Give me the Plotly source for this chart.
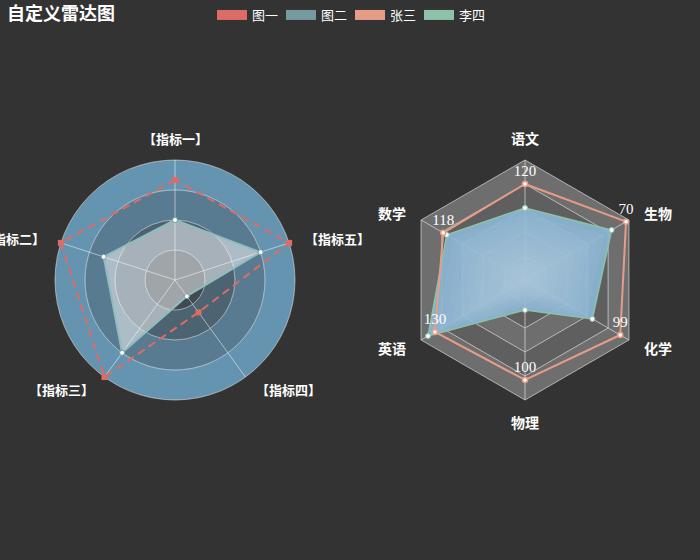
import math
import numpy as np
import plotly.graph_objects as go

# ---------------- data ----------------
left_indicators = ['指标一', '指标二', '指标三', '指标四', '指标五']
left_min = [0, 0, 0, -120, 0]
left_max = [120, 8, 0.4, 0, 2000]
series1_name = '图一'
series1_values = [100, 8, 0.4, -80, 2000]
series2_name = '图二'
series2_values = [60, 5, 0.3, -100, 1500]

right_indicators = ['语文', '数学', '英语', '物理', '化学', '生物']
right_max = [150, 150, 150, 120, 108, 72]
series3_name = '张三'
series3_values = [120, 118, 130, 100, 99, 70]
series4_name = '李四'
series4_values = [90, 113, 140, 30, 70, 60]

# ---------------- style ----------------
W, H = 700, 560
BG = '#333333'
C1, C2, C3, C4 = '#dd6b66', '#759aa0', '#e69d87', '#8dc1a9'
CJK = 'Noto Sans CJK SC'
LEFT_SPLIT = 4
RIGHT_SPLIT = 5
left_ring_colors = ['rgba(114,172,209,0.2)', 'rgba(114,172,209,0.4)',
                    'rgba(114,172,209,0.6)', 'rgba(114,172,209,0.8)']
right_ring_colors = ['rgba(250,250,250,0.3)', 'rgba(200,200,200,0.3)']
LEFT_GRID = 'rgba(255,255,255,0.5)'
RIGHT_GRID = 'rgba(215,215,215,0.75)'
RADIUS = 120
NAME_GAP = 15
NAME_GAP_VERT = 22
LEFT_CENTER = (0.25 * W, 0.5 * H)
RIGHT_CENTER = (0.75 * W, 0.5 * H)


def norm(vals, mins, maxs):
    return [(v - lo) / (hi - lo) for v, lo, hi in zip(vals, mins, maxs)]


def closed(lst):
    return list(lst) + [lst[0]]


fig = go.Figure()


def add_rings(theta_loop, n, colors, subplot):
    """Filled annuli (outer loop + reversed inner loop) for the split areas."""
    m = len(theta_loop)
    for i in range(n):
        inner, outer = i / n, (i + 1) / n
        fig.add_trace(go.Scatterpolar(
            theta=list(theta_loop) + list(theta_loop)[::-1],
            r=[outer] * m + [inner] * m,
            mode='lines', line=dict(width=0), fill='toself',
            fillcolor=colors[i % len(colors)],
            subplot=subplot, showlegend=False, hoverinfo='skip'))


circle_theta = np.linspace(0, 360, 181)
add_rings(circle_theta, LEFT_SPLIT, left_ring_colors, 'polar')
add_rings(closed(right_indicators), RIGHT_SPLIT, right_ring_colors, 'polar3')

# left series
r1 = norm(series1_values, left_min, left_max)
r2 = norm(series2_values, left_min, left_max)
fig.add_trace(go.Scatterpolar(
    r=closed(r2), theta=closed(left_indicators), subplot='polar2',
    mode='lines+markers', fill='toself', fillcolor='rgba(255,255,255,0.5)',
    line=dict(color='#8fbdbd', width=2),
    marker=dict(symbol='circle', size=5, color='white', line=dict(color=C2, width=1)),
    name=series2_name, showlegend=False, hoverinfo='skip'))
fig.add_trace(go.Scatterpolar(
    r=closed(r1), theta=closed(left_indicators), subplot='polar2',
    mode='lines+markers', line=dict(color=C1, width=2, dash='8px,5px'),
    marker=dict(symbol='square', size=6, color=C1),
    name=series1_name, showlegend=False, hoverinfo='skip'))

# right series
zeros = [0] * len(right_indicators)
r3 = norm(series3_values, zeros, right_max)
r4 = norm(series4_values, zeros, right_max)
fig.add_trace(go.Scatterpolar(
    r=closed(r4), theta=closed(right_indicators), subplot='polar4',
    mode='lines', fill='toself', fillcolor='rgba(140,182,212,0.92)',
    line=dict(color=C4, width=1.5),
    name=series4_name, showlegend=False, hoverinfo='skip'))
# soft radial-gradient look for the 李四 area (lighter toward the centre)
NLAY = 12
for j in range(1, NLAY):
    k = 1 - j / NLAY
    fig.add_trace(go.Scatterpolar(
        r=closed([v * k for v in r4]), theta=closed(right_indicators), subplot='polar4',
        mode='lines', line=dict(width=0), fill='toself',
        fillcolor='rgba(196,216,230,0.06)', showlegend=False, hoverinfo='skip'))
fig.add_trace(go.Scatterpolar(
    r=closed(r4), theta=closed(right_indicators), subplot='polar4',
    mode='markers',
    marker=dict(symbol='circle', size=5, color='white', line=dict(color=C4, width=1)),
    showlegend=False, hoverinfo='skip'))
fig.add_trace(go.Scatterpolar(
    r=closed(r3), theta=closed(right_indicators), subplot='polar4',
    mode='lines+markers+text', line=dict(color=C3, width=2),
    marker=dict(symbol='circle', size=5, color='white', line=dict(color=C3, width=1.5)),
    text=[str(v) for v in series3_values] + [''], textposition='top center',
    textfont=dict(family='Liberation Serif', size=15, color='white'),
    name=series3_name, showlegend=False, hoverinfo='skip'))

# legend-only entries
for name, c, sp in [(series1_name, C1, 'polar2'), (series2_name, C2, 'polar2'),
                    (series3_name, C3, 'polar4'), (series4_name, C4, 'polar4')]:
    fig.add_trace(go.Scatterpolar(
        r=[None], theta=[None], subplot=sp, mode='lines', name=name,
        line=dict(color=c, width=14), showlegend=True, hoverinfo='skip'))


def dom(center):
    cx, cy = center
    return dict(x=[(cx - RADIUS) / W, (cx + RADIUS) / W],
                y=[1 - (cy + RADIUS) / H, 1 - (cy - RADIUS) / H])


def hidden_polar(center, cats, gridshape):
    ang = dict(rotation=90, direction='counterclockwise', visible=False)
    if cats is not None:
        ang.update(type='category', categoryarray=cats)
    else:
        ang.update(type='linear', thetaunit='degrees')
    return dict(
        domain=dom(center), bgcolor='rgba(0,0,0,0)', gridshape=gridshape,
        angularaxis=ang, radialaxis=dict(range=[0, 1], visible=False))


def data_polar(center, cats, gridshape, gridcolor, nsplit):
    return dict(
        domain=dom(center), bgcolor='rgba(0,0,0,0)', gridshape=gridshape,
        angularaxis=dict(type='category', categoryarray=cats, rotation=90,
                         direction='counterclockwise', showline=True, linecolor=gridcolor,
                         linewidth=1, showgrid=True, gridcolor=gridcolor, gridwidth=1,
                         ticks='', showticklabels=False, layer='below traces'),
        radialaxis=dict(range=[0, 1], showticklabels=False, ticks='', showline=False,
                        showgrid=True, gridcolor=gridcolor, gridwidth=1,
                        tickvals=[i / nsplit for i in range(1, nsplit)],
                        layer='below traces'))


def name_annotations(center, labels, fsize):
    cx, cy = center
    n = len(labels)
    out = []
    for i, lab in enumerate(labels):
        a = math.radians(90 + 360.0 * i / n)
        c, s = math.cos(a), math.sin(a)
        gap = NAME_GAP_VERT if abs(s) > 0.95 else NAME_GAP
        px = cx + (RADIUS + gap) * c
        py = cy - (RADIUS + gap) * s
        xa = 'center' if abs(c) < 0.05 else ('left' if c > 0 else 'right')
        out.append(dict(text=lab, x=px / W, y=1 - py / H, xref='paper', yref='paper',
                        xanchor=xa, yanchor='middle', showarrow=False,
                        font=dict(family=CJK, size=fsize, color='white', weight='bold')))
    return out


annotations = (name_annotations(LEFT_CENTER, ['【%s】' % s for s in left_indicators], 13)
               + name_annotations(RIGHT_CENTER, right_indicators, 14))

fig.update_layout(
    width=W, height=H, margin=dict(l=0, r=0, t=0, b=0),
    paper_bgcolor=BG, plot_bgcolor=BG,
    polar=hidden_polar(LEFT_CENTER, None, 'circular'),
    polar2=data_polar(LEFT_CENTER, left_indicators, 'circular', LEFT_GRID, LEFT_SPLIT),
    polar3=hidden_polar(RIGHT_CENTER, right_indicators, 'linear'),
    polar4=data_polar(RIGHT_CENTER, right_indicators, 'linear', RIGHT_GRID, RIGHT_SPLIT),
    annotations=annotations,
    title=dict(text='自定义雷达图', x=7 / W, xanchor='left', y=1 - 14 / H, yanchor='middle',
               font=dict(family=CJK, size=18, color='white', weight='bold')),
    legend=dict(orientation='h', x=0.5, xanchor='center', y=1, yanchor='top',
                font=dict(family=CJK, size=13, color='white'), bgcolor='rgba(0,0,0,0)',
                itemwidth=30, entrywidth=24, entrywidthmode='pixels',
                itemclick=False, itemdoubleclick=False),
    showlegend=True,
)

fig.write_html('out.html')
